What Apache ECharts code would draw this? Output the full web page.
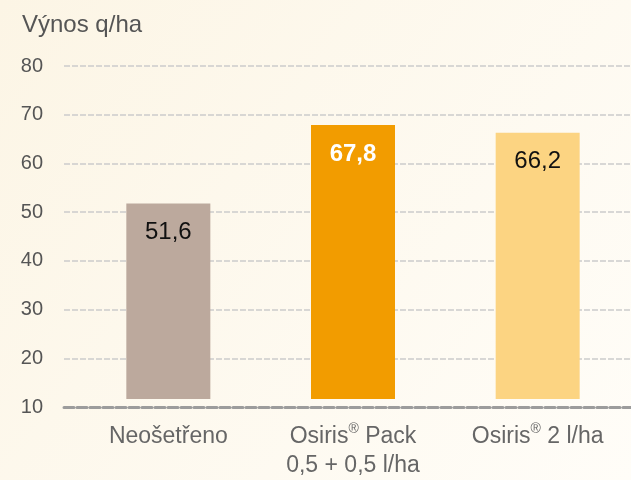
<!DOCTYPE html>
<html>
<head>
<meta charset="utf-8">
<script src="https://cdn.jsdelivr.net/npm/echarts@6/dist/echarts.min.js"></script>
<style>
  html, body { margin: 0; padding: 0; }
  #chart { width: 631px; height: 480px; }
</style>
</head>
<body>
<div id="chart"></div>
<script>
// data
var categories = ['Neošetřeno', 'Osiris® Pack\n0,5 + 0,5 l/ha', 'Osiris® 2 l/ha'];
var yields = [51.6, 67.8, 66.2];
var barColors = ['#bca99d', '#f29c00', '#fcd482'];
var labelColors = ['#111111', '#ffffff', '#111111'];
var labelWeights = ['normal', 'bold', 'normal'];
var yMin = 10, yMax = 80, yStep = 10;
var barFloor = 11.2; // bars start a bit above the dashed 10 line

var chart = echarts.init(document.getElementById('chart'));

// ® gets a small raised style
function supFormat(txt) {
    return txt.split('\n').map(function (line) {
        return line.replace(/®/g, '{sup|®}');
    }).join('\n');
}

var option = {
    backgroundColor: {
        type: 'linear', x: 0, y: 0, x2: 1, y2: 1,
        colorStops: [
            { offset: 0, color: '#fcf5e5' },
            { offset: 1, color: '#fffdf8' }
        ]
    },
    title: {
        text: 'Výnos q/ha',
        left: 17,
        top: 8,
        textStyle: { color: '#555', fontSize: 24, fontWeight: 'normal', fontFamily: 'Liberation Sans' }
    },
    grid: [
        { left: 64, right: 0, top: 66, bottom: 73 },
        { left: 76, right: 1, top: 66, bottom: 79 }
    ],
    xAxis: [
        {
            type: 'category', gridIndex: 0, data: [''],
            axisLine: { show: true, lineStyle: { color: '#9c9c9c', width: 3, type: [10, 3] } },
            axisTick: { show: false }, axisLabel: { show: false }
        },
        {
            type: 'category', gridIndex: 1, data: categories,
            axisLine: { show: false }, axisTick: { show: false },
            axisLabel: {
                interval: 0,
                margin: 23,
                color: '#666',
                fontSize: 23,
                lineHeight: 29,
                fontFamily: 'Liberation Sans',
                formatter: supFormat,
                rich: {
                    sup: { fontSize: 14, color: '#666', verticalAlign: 'top', padding: [0, 0, 9, 0], fontFamily: 'Liberation Sans' }
                }
            }
        }
    ],
    yAxis: [
        {
            type: 'value', gridIndex: 0, min: yMin, max: yMax, interval: yStep,
            axisLine: { show: false }, axisTick: { show: false },
            axisLabel: { color: '#555', fontSize: 20, margin: 21, fontFamily: 'Liberation Sans' },
            splitLine: { showMinLine: false, lineStyle: { color: '#cccccc', width: 1.5, type: [6, 2] } }
        },
        {
            type: 'value', gridIndex: 1, min: barFloor, max: yMax,
            axisLine: { show: false }, axisTick: { show: false },
            axisLabel: { show: false }, splitLine: { show: false }
        }
    ],
    series: [
        {
            type: 'bar',
            xAxisIndex: 1,
            yAxisIndex: 1,
            barWidth: 84,
            data: yields.map(function (v, i) {
                return {
                    value: v,
                    itemStyle: { color: barColors[i] },
                    label: { color: labelColors[i], fontWeight: labelWeights[i] }
                };
            }),
            label: {
                show: true,
                position: 'insideTop',
                distance: 17,
                fontSize: 24,
                fontFamily: 'Liberation Sans',
                formatter: function (p) { return String(p.value).replace('.', ','); }
            },
            animation: false
        }
    ]
};

chart.setOption(option);
</script>
</body>
</html>
